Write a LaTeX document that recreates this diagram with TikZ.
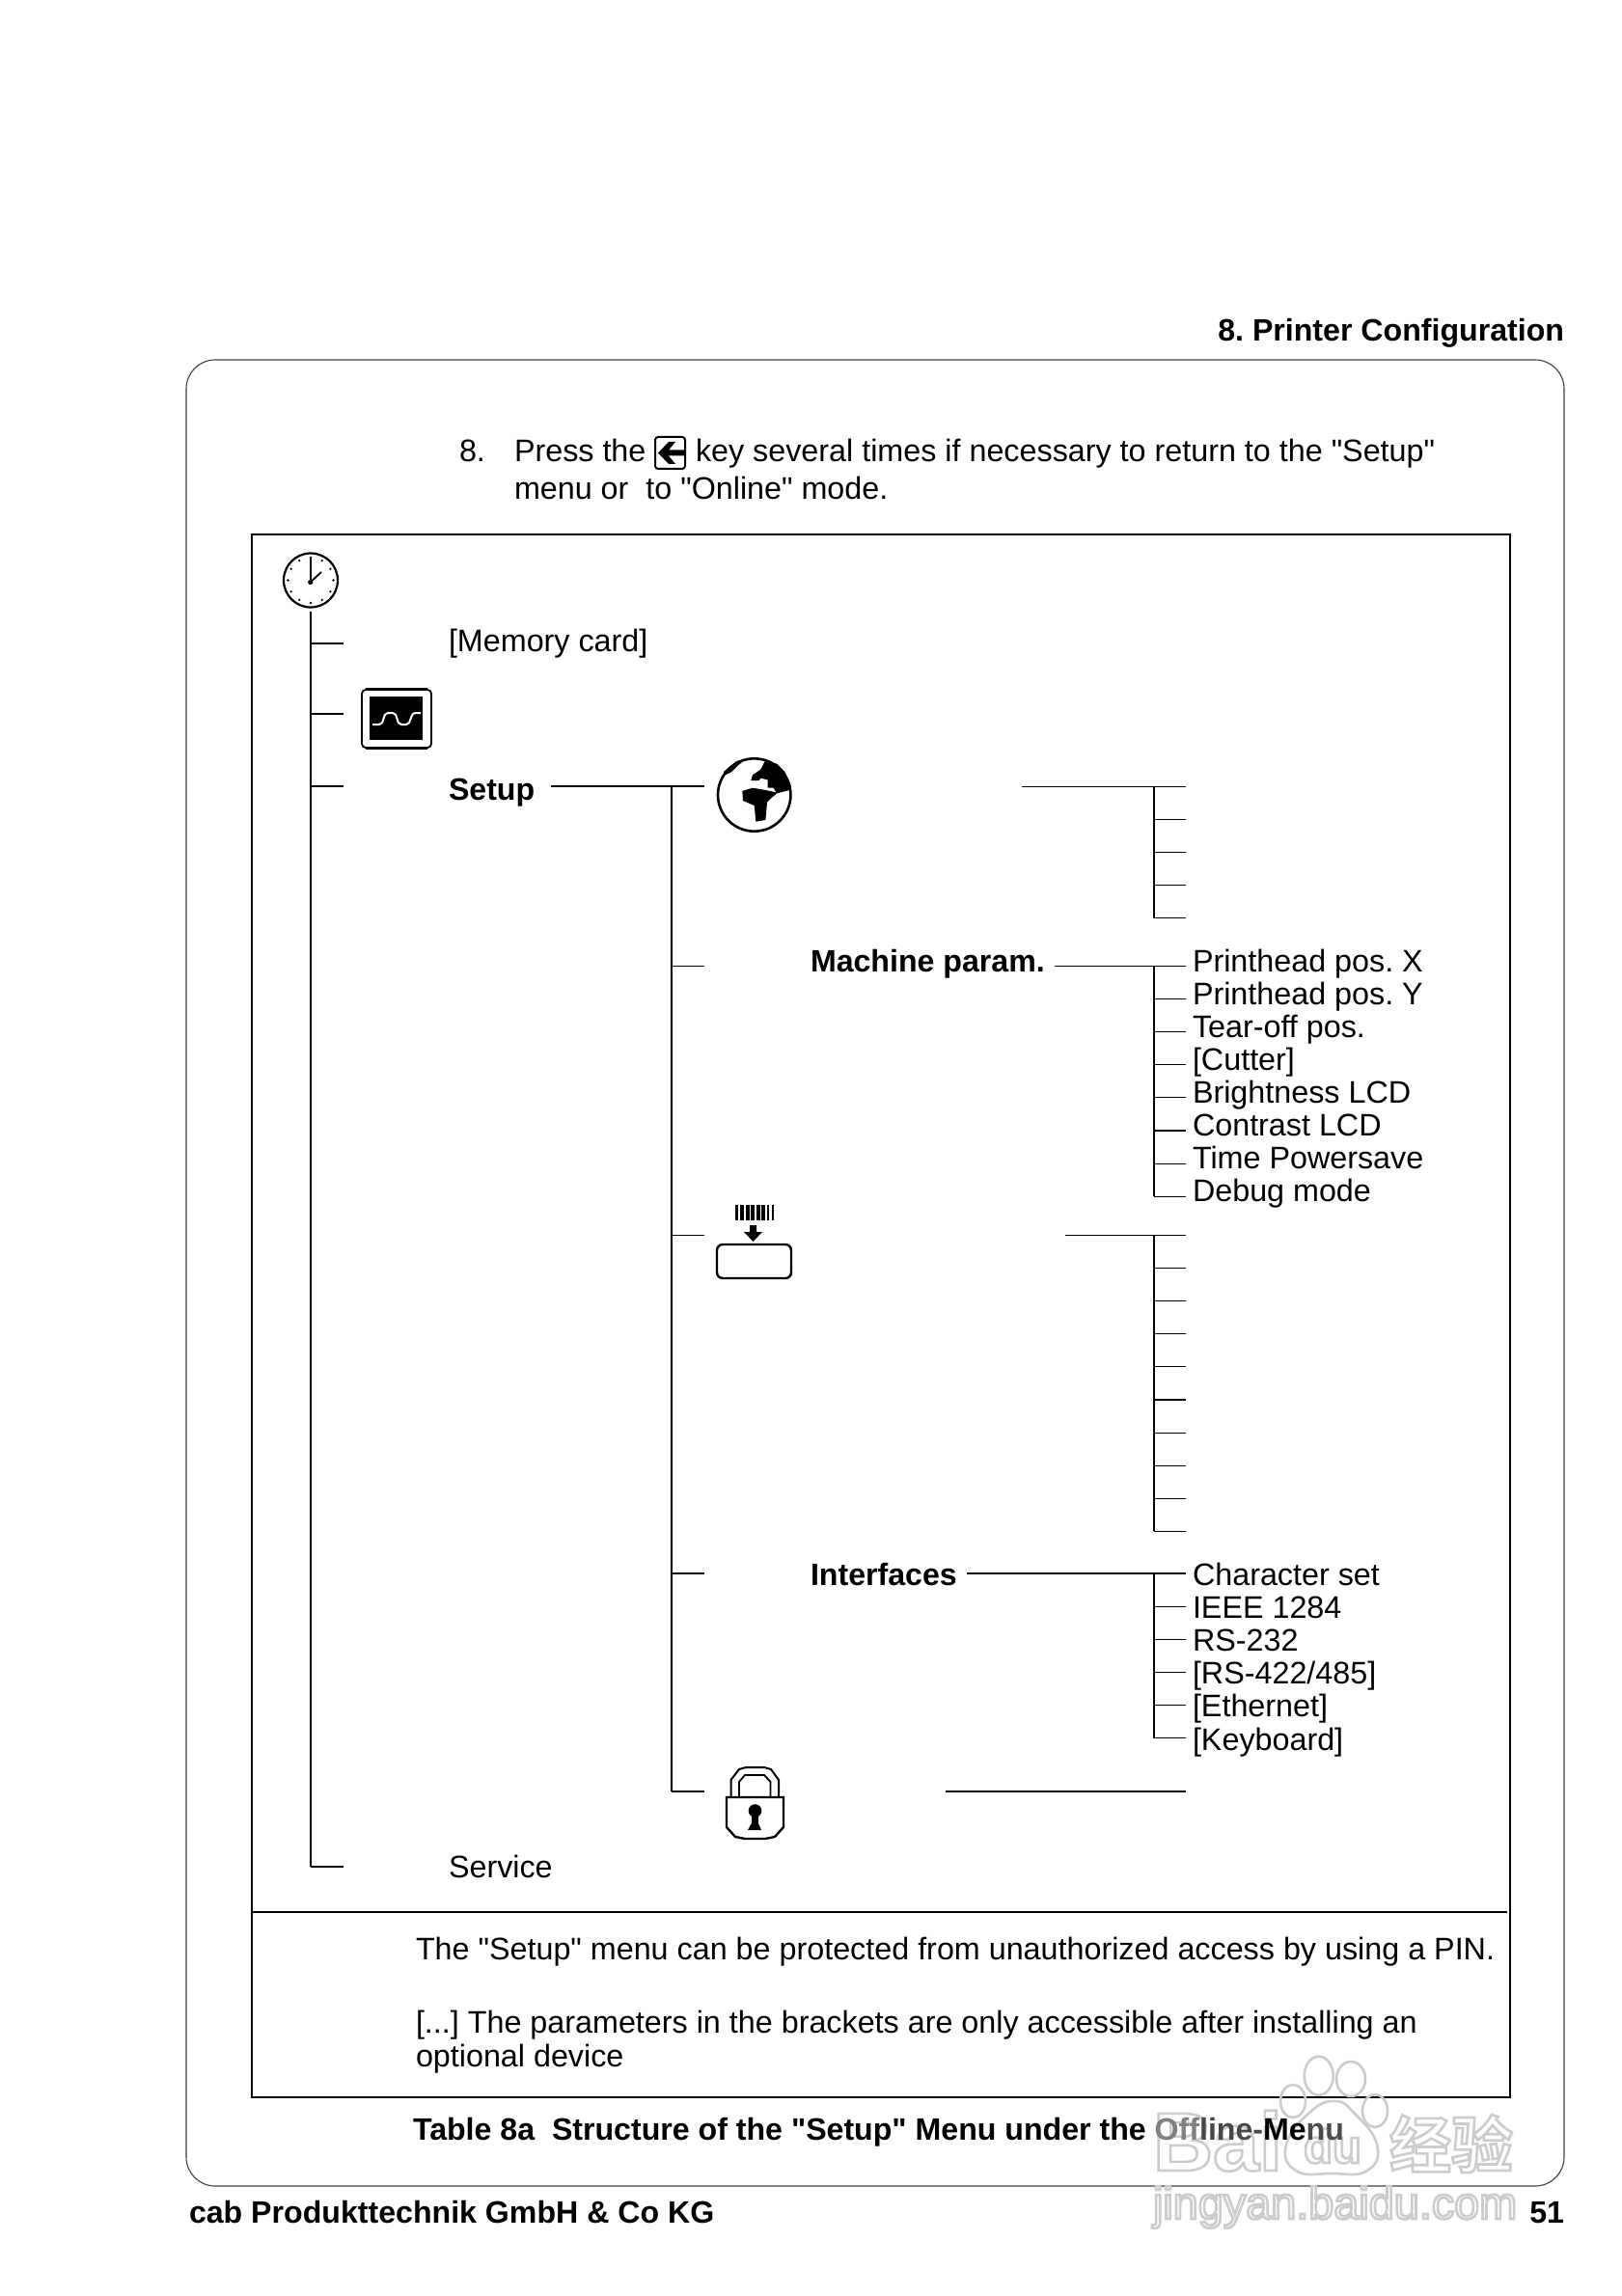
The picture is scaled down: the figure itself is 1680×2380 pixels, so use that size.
\documentclass[tikz,border=0pt]{standalone}
\usepackage{fontspec}
\newfontfamily\lsans{Liberation Sans}
\newfontfamily\cjkwm{Noto Sans CJK SC Bold}
\newcommand{\bodysize}{\frenchspacing\lsans\fontsize{16.15}{18}\selectfont}
\newcommand{\boldsize}{\frenchspacing\lsans\fontsize{16.06}{18}\selectfont\bfseries}
\newcommand{\outl}[1]{\special{pdf:code 1 Tr 1.3 w}#1\special{pdf:code 0 Tr}}
\tikzset{
 every node/.style={inner sep=0pt,outer sep=0pt,font=\bodysize},
 lab/.style={anchor=base west},
 boldlab/.style={anchor=base west,font=\boldsize},
 conn/.style={line width=0.55pt,black},
 frameline/.style={line width=0.55pt,black},
 wm/.style={text=black!20,anchor=base west},
 wmline/.style={draw=black!20,line width=1.3pt}
}
\begin{document}
\begin{tikzpicture}[x=0.5pt,y=-0.5pt]
\useasboundingbox (0,0) rectangle (1680,2380);
\fill[white] (0,0) rectangle (1680,2380);
% frames
\draw[frameline,draw=black!75,rounded corners=15pt] (193,373) rectangle (1621,2266);
\draw[frameline] (261,554) rectangle (1565,2174);
\coordinate (sepL) at (261,1982); \coordinate (sepR) at (1562,1982);
\draw[frameline] (sepL) -- (sepR);
% watermark (below the caption)
\node[wm,font=\lsans\fontsize{43}{43}\selectfont\bfseries] (wmb) at (1195,2250) {\outl{Bai}};
\node[wm,font=\lsans\fontsize{24.5}{25}\selectfont\bfseries] (wmd) at (1351,2242) {\outl{du}};
\node[wm,font=\cjkwm\fontsize{32}{32}\selectfont] (wmc) at (1440,2247) {\outl{经验}};
\node[wm,font=\lsans\fontsize{23.4}{25}\selectfont] (wmu) at (1195,2300) {\outl{jingyan.baidu.com}};
\foreach \ex/\ey/\ea/\eb in {1366.7/2151.7/15/20,1400/2155/15/18,1340/2178/13/17,1425/2188/13/17}{
 \draw[wmline] (\ex,\ey) ellipse ({\ea*0.5pt} and {\eb*0.5pt});}
\draw[wmline] plot[smooth cycle,tension=0.8] coordinates {(1333,2223) (1357,2190) (1383,2178) (1403,2190) (1427,2223) (1417,2250) (1380,2253) (1343,2250)};
% header and instruction
\node[anchor=base east,font=\boldsize] (hdr) at (1621,354) {8. Printer Configuration};
\node[lab] (n8) at (476,479) {8.};
\node[lab] (press) at (533,479) {Press the};
\node[lab] (keytxt) at (721,479) {key several times if necessary to return to the "Setup"};
\node[lab] (menuor) at (533,517) {menu or\ \ to "Online" mode.};
% key icon
\draw[line width=1pt,rounded corners=1.5pt] (679,453) rectangle (710,486);
\fill (710,466.5) -- (693,466.5) -- (700,458) -- (693,458) -- (682,469.5) -- (693,481) -- (700,481) -- (693,472.5) -- (710,472.5) -- cycle;
% clock
\node[circle,draw,line width=1.1pt,minimum size=28pt] (clock) at (322,601.5) {};
\foreach \a in {0,30,...,330}{\fill (322,601.5) ++(\a:23.5) circle (0.65pt);}
\draw[line width=0.9pt] (321.7,603.5) -- (321.7,579);
\draw[line width=0.9pt] (321.7,603.5) -- (333,593);
\fill (321.7,603.5) circle (1.3pt);
% monitor
\draw[line width=0.9pt,rounded corners=2pt] (375,715) rectangle (447,775);
\draw[line width=1.5pt] (379,714.5) -- (443,714.5) (379,775) -- (443,775);
\node[fill=black,minimum width=27.5pt,minimum height=22.5pt] (screen) at (410.5,744.5) {};
\draw[white,line width=1pt] (386,751) -- (393,751) .. controls (399,751) and (396,739) .. (402,739) -- (407,739) .. controls (413,739) and (410,751) .. (416,751) -- (421,751) .. controls (427,751) and (424,739) .. (431,739) -- (436,739);
% globe
\node[circle,draw,line width=1.3pt,minimum size=37.7pt] (globe) at (781.7,824) {};
\begin{scope}[shift={(730,775)},x=0.5pt/3,y=-0.5pt/3]
 \fill (150,85) -- (175,68) -- (188,42) -- (225,50) -- (250,75) -- (270,120) -- (265,132) -- (225,142) -- (215,125) -- (197,125) -- (197,100) -- (175,95) -- (170,102) -- (145,102) -- cycle;
 \fill (118,135) -- (150,125) -- (190,132) -- (228,140) -- (210,155) -- (195,170) -- (190,225) -- (160,230) -- (155,180) -- (120,165) -- cycle;
 \fill (60,75) -- (100,42) -- (130,35) -- (105,55) -- (85,75) -- (65,85) -- cycle;
\end{scope}
% download icon
\foreach \bx/\bw in {762/1.5,767/2,773/2,778/2,784/2,789/2,795/1,800/1}{\fill (\bx,1249) rectangle (\bx+\bw*2,1265);}
\fill (777,1270) -- (784,1270) -- (784,1277) -- (790,1277) -- (780.5,1287) -- (771,1277) -- (777,1277) -- cycle;
\draw[line width=1.2pt,rounded corners=3pt] (743,1290) rectangle (820,1325);
% lock
\draw[line width=1pt] (757.5,1863) -- (757.5,1845) -- (766,1834) -- (773,1832) -- (792,1832) -- (799,1834) -- (807,1845) -- (807,1863);
\draw[line width=0.9pt] (766,1863) -- (766,1847) -- (772,1840) -- (792,1840) -- (798.5,1847) -- (798.5,1863);
\draw[line width=1.2pt] (753,1863) -- (812,1863) -- (812,1894) -- (803,1904) -- (793,1906) -- (772,1906) -- (762,1904) -- (753,1894) -- cycle;
\fill (782.5,1877) circle (3.4pt);
\fill (779,1880) rectangle (786,1890);
\fill (780,1888) -- (785,1888) -- (789,1897) -- (775,1897) -- cycle;
% tree coordinates
\foreach \n/\y in {a/667,b/740,c/815,d/1935}{\coordinate (T\n) at (322,\y); \coordinate (E\n) at (356,\y);}
\coordinate (Ttop) at (322,634);
\draw[conn] (Ttop) -- (Td);
\foreach \n in {a,b,c,d}{\draw[conn] (T\n) -- (E\n);}
\coordinate (Sc) at (571,815); \coordinate (Sj) at (696,815); \coordinate (Se) at (730,815);
\draw[conn] (Sc) -- (Se);
\foreach \n/\y/\st in {m/1001.5/1092.5,d/1280.5/1104,i/1631/1002,l/1857/980}{
 \coordinate (J\n) at (696,\y); \coordinate (K\n) at (730,\y); \coordinate (R\n) at (\st,\y); \coordinate (Z\n) at (1229,\y);
 \draw[conn] (J\n) -- (K\n); \draw[conn] (R\n) -- (Z\n);
}
\draw[conn] (Sj) -- (Jl);
% sub-branches
\coordinate (Gs) at (1059,815.5); \coordinate (Ge) at (1229,815.5);
\draw[conn] (Gs) -- (Ge);
\foreach \i in {0,...,4}{\coordinate (gl\i) at (1196,815.5+34*\i); \coordinate (gr\i) at (1229,815.5+34*\i); \draw[conn] (gl\i) -- (gr\i);}
\draw[conn] (gl0) -- (gl4);
\foreach \i in {0,...,7}{\coordinate (ml\i) at (1196,1001.5+34.1*\i); \coordinate (mr\i) at (1229,1001.5+34.1*\i); \draw[conn] (ml\i) -- (mr\i);}
\draw[conn] (ml0) -- (ml7);
\foreach \i in {0,...,9}{\coordinate (dl\i) at (1196,1280.5+34.1*\i); \coordinate (dr\i) at (1229,1280.5+34.1*\i); \draw[conn] (dl\i) -- (dr\i);}
\draw[conn] (dl0) -- (dl9);
\foreach \i in {0,...,5}{\coordinate (il\i) at (1196,1631+34.1*\i); \coordinate (ir\i) at (1229,1631+34.1*\i); \draw[conn] (il\i) -- (ir\i);}
\draw[conn] (il0) -- (il5);
% labels
\node[lab] (memcard) at (465,675) {[Memory card]};
\node[boldlab] (setup) at (465,829) {Setup};
\node[lab] (service) at (465,1946) {Service};
\node[boldlab] (machine) at (840,1007) {Machine param.};
\node[boldlab] (iface) at (840,1643) {Interfaces};
\foreach \i/\t in {0/Printhead pos. X,1/Printhead pos. Y,2/Tear-off pos.,3/[Cutter],4/Brightness LCD,5/Contrast LCD,6/Time Powersave,7/Debug mode}{
 \node[lab] (mt\i) at (1236,1007+34.1*\i) {\t};}
\foreach \i/\t in {0/Character set,1/IEEE 1284,2/RS-232,3/{[RS-422/485]},4/[Ethernet],5/[Keyboard]}{
 \node[lab] (it\i) at (1236,1643.5+34.1*\i) {\t};}
% notes
\node[lab] (note1) at (431,2031) {The "Setup" menu can be protected from unauthorized access by using a PIN.};
\node[lab] (note2) at (431,2107) {[...] The parameters in the brackets are only accessible after installing an};
\node[lab] (note3) at (431,2142) {optional device};
\node[boldlab] (cap) at (428,2218) {Table 8a\ \ Structure of the "Setup" Menu under the {\color{black!50}Off}{\color{black!72}line-}Me{\color{black!70}nu}};
\node[boldlab] (foot) at (196,2304) {cab Produkttechnik GmbH \& Co KG};
\node[anchor=base east,font=\boldsize] (pg) at (1621,2304) {51};
\end{tikzpicture}
\end{document}
